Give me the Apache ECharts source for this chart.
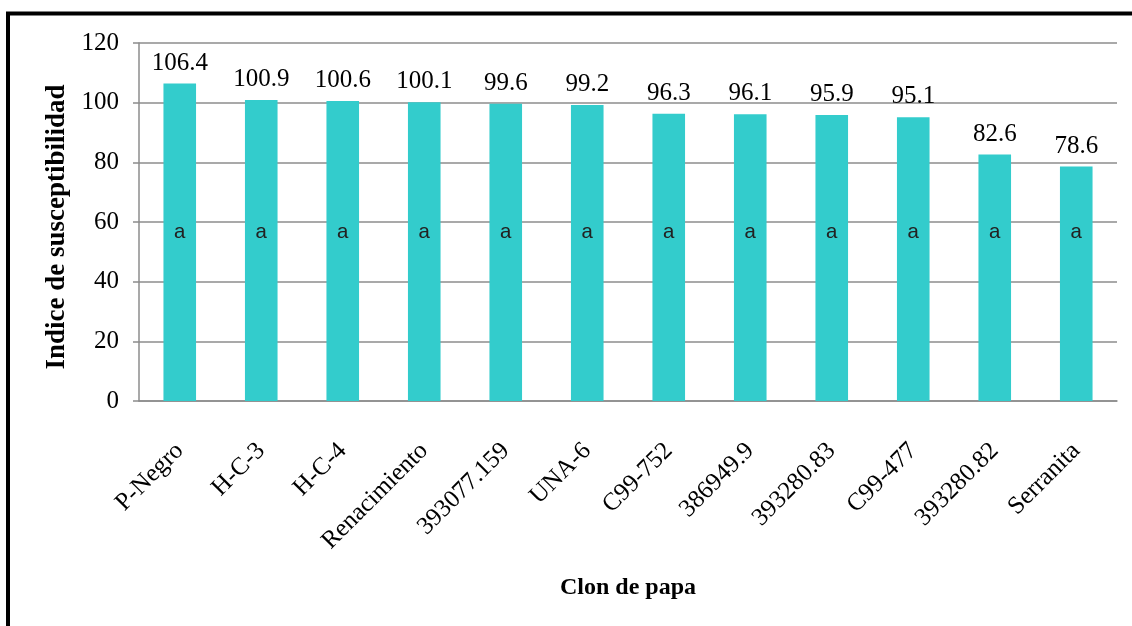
<!DOCTYPE html>
<html>
<head>
<meta charset="utf-8">
<script src="https://cdn.jsdelivr.net/npm/echarts@6/dist/echarts.min.js"></script>
<style>
  html, body { margin: 0; padding: 0; background: #fff; }
  #chart { width: 1132px; height: 626px; }
</style>
</head>
<body>
<div id="chart"></div>
<script>
// Potato clones and their susceptibility index
const clones = ['P-Negro', 'H-C-3', 'H-C-4', 'Renacimiento', '393077.159', 'UNA-6',
                'C99-752', '386949.9', '393280.83', 'C99-477', '393280.82', 'Serranita'];
const susceptibility = [106.4, 100.9, 100.6, 100.1, 99.6, 99.2, 96.3, 96.1, 95.9, 95.1, 82.6, 78.6];
// Mean-separation letters shown inside each bar
const groups = ['a', 'a', 'a', 'a', 'a', 'a', 'a', 'a', 'a', 'a', 'a', 'a'];

const serif = '"Liberation Serif", "Times New Roman", serif';
const chart = echarts.init(document.getElementById('chart'), null, { renderer: 'canvas' });

chart.setOption({
  animation: false,
  backgroundColor: '#ffffff',
  grid: { left: 139, right: 15, top: 43, bottom: 225 },
  graphic: [{
    type: 'rect',
    shape: { x: 8, y: 13.5, width: 1300, height: 800 },
    style: { fill: 'none', stroke: '#000', lineWidth: 4 },
    silent: true
  }],
  xAxis: {
    type: 'category',
    data: clones,
    name: 'Clon de papa',
    nameLocation: 'middle',
    nameGap: 175,
    nameTextStyle: { fontFamily: serif, fontSize: 24, fontWeight: 'bold', color: '#000' },
    axisLine: { lineStyle: { color: '#8c8c8c', width: 1.5 } },
    axisTick: { show: false },
    axisLabel: { rotate: 45, margin: 46, fontFamily: serif, fontSize: 25, color: '#000', interval: 0 }
  },
  yAxis: {
    type: 'value',
    min: 0, max: 120, interval: 20,
    name: 'Indice de susceptibilidad',
    nameLocation: 'middle',
    nameGap: 64,
    nameTextStyle: { fontFamily: serif, fontSize: 27, fontWeight: 'bold', color: '#000', padding: [0, 10, 0, 0] },
    axisLine: { show: true, lineStyle: { color: '#8c8c8c', width: 1.5 } },
    axisTick: { show: true, length: 6, lineStyle: { color: '#8c8c8c', width: 1.5 } },
    axisLabel: { margin: 20, fontFamily: serif, fontSize: 25, color: '#000' },
    splitLine: { lineStyle: { color: '#8c8c8c', width: 1.5 } }
  },
  series: [
    {
      type: 'bar',
      data: susceptibility,
      barWidth: '40%',
      itemStyle: { color: '#33cccc' },
      label: {
        show: true, position: 'top', distance: 8,
        fontFamily: serif, fontSize: 25, color: '#000',
        formatter: p => p.value.toFixed(1)
      }
    },
    {
      type: 'bar',
      data: susceptibility,
      barWidth: '40%',
      barGap: '-100%',
      itemStyle: { color: 'rgba(0,0,0,0)' },
      label: {
        show: true, position: 'insideBottom', distance: 158,
        fontFamily: '"Liberation Mono", "Courier New", monospace', fontSize: 21, color: '#222',
        formatter: p => groups[p.dataIndex]
      },
      z: 3
    }
  ]
});
</script>
</body>
</html>
